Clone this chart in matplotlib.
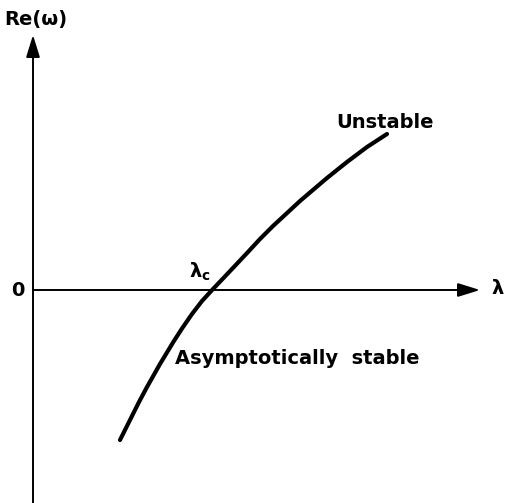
import matplotlib
matplotlib.use("Agg")
import matplotlib.pyplot as plt

# growth rate Re(w) as the control parameter lambda increases
lam = [0.87, 0.93, 0.99, 1.06, 1.14, 1.27, 1.40, 1.49, 1.59, 1.69, 1.80, 1.90, 1.99,
       2.15, 2.27, 2.40, 2.53, 2.67, 2.94, 3.14, 3.34, 3.54]
re_w = [-1.50, -1.38, -1.26, -1.12, -0.97, -0.74, -0.525, -0.385, -0.24, -0.11, 0.01, 0.115, 0.21,
        0.38, 0.51, 0.64, 0.76, 0.89, 1.12, 1.28, 1.43, 1.56]

fig = plt.figure(figsize=(5.05, 5.03), dpi=100)
ax = fig.add_axes([0, 0, 1, 1])
ax.set_xlim(-0.33, 4.72)
ax.set_ylim(-2.13, 2.90)
ax.axis("off")

head = "-|>,head_length=0.9,head_width=0.28"
ax.annotate("", xy=(0, 2.55), xytext=(0, -2.3),
            arrowprops=dict(arrowstyle=head, lw=1.4, color="black", mutation_scale=15,
                            shrinkA=0, shrinkB=0))
ax.annotate("", xy=(4.47, 0), xytext=(0, 0),
            arrowprops=dict(arrowstyle=head, lw=1.4, color="black", mutation_scale=15,
                            shrinkA=0, shrinkB=0))

ax.plot(lam, re_w, color="black", lw=3.0, solid_capstyle="round", solid_joinstyle="round")

font = dict(family="DejaVu Sans", weight="bold", color="black", fontsize=14)
ax.text(0.03, 2.71, "Re(ω)", ha="center", va="center", **font)
ax.text(-0.15, -0.01, "0", ha="center", va="center", **font)
ax.text(4.65, 0.01, "λ", ha="center", va="center", **font)
ax.text(1.67, 0.18, "λ$_{\\mathbf{c}}$", ha="center", va="center", **font)
ax.text(3.52, 1.68, "Unstable", ha="center", va="center", **font)
ax.text(2.64, -0.68, "Asymptotically  stable", ha="center", va="center", **font)

fig.savefig("out.png", dpi=100)
